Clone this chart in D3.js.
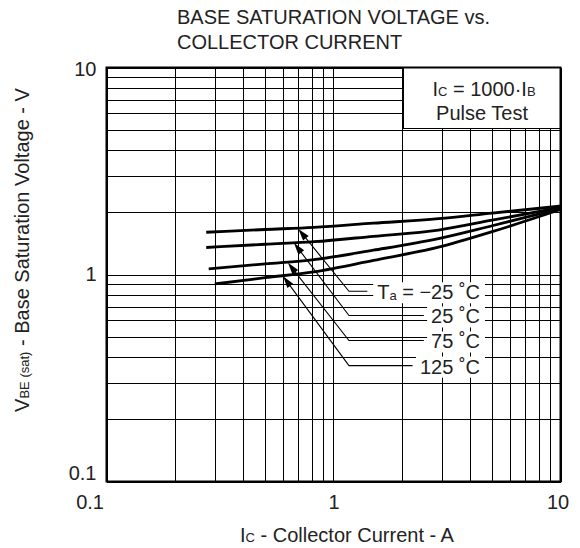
<!DOCTYPE html>
<html>
<head>
<meta charset="utf-8">
<script src="https://cdn.jsdelivr.net/npm/d3@7/dist/d3.min.js"></script>
<style>
  html, body { margin: 0; padding: 0; background: #fff; }
  svg { display: block; }
  text { font-family: "Liberation Sans", Arial, Helvetica, sans-serif; fill: #222; }
</style>
</head>
<body>
<svg id="chart" width="580" height="548"></svg>
<script>
// ---- data ----
const titleLines = ["BASE SATURATION VOLTAGE vs.", "COLLECTOR CURRENT"];
const xTickLabels = [0.1, 1, 10];
const yTickLabels = [0.1, 1, 10];
const temps = ["−25", "25", "75", "125"];

const icM25 = [0.275, 0.5, 0.82, 1.5, 2.9, 5, 10];
const vM25  = [1.60, 1.65, 1.69, 1.77, 1.86, 1.98, 2.14];
const ic25  = [0.275, 0.5, 0.82, 1.5, 2.9, 5, 10];
const v25   = [1.35, 1.40, 1.44, 1.53, 1.64, 1.83, 2.11];
const ic75  = [0.282, 0.5, 0.82, 1.5, 2.9, 5, 10];
const v75   = [1.065, 1.125, 1.18, 1.31, 1.49, 1.72, 2.08];
const ic125 = [0.30, 0.5, 0.82, 1.5, 2.9, 5, 10];
const v125  = [0.90, 0.965, 1.03, 1.17, 1.355, 1.61, 2.06];

// annotation anchors (data units)
const annTipX   = [0.70, 0.67, 0.63, 0.60];
const annTipV   = [1.66, 1.42, 1.14, 0.98];
const annElbowX = [1.17, 1.17, 1.17, 1.17];
const annElbowV = [0.83, 0.634, 0.48, 0.363];
const annEndX   = [1.41, 2.5, 2.5, 2.23];
const annLabelX = 4.42;

// ---- layout ----
const L = 106.5, R = 560.5, T = 67.5, B = 481.5;
const svg = d3.select("#chart");
const x = d3.scaleLog().domain([0.1, 10]).range([L, R]);
const y = d3.scaleLog().domain([0.1, 10]).range([B, T]);

// grid
const grid = svg.append("g").attr("stroke", "#000").attr("stroke-width", 1).attr("shape-rendering", "crispEdges");
grid.selectAll("line.v").data(x.ticks()).join("line")
  .attr("x1", d => Math.round(x(d)) + 0.5).attr("x2", d => Math.round(x(d)) + 0.5)
  .attr("y1", T).attr("y2", B);
grid.selectAll("line.h").data(y.ticks()).join("line")
  .attr("y1", d => Math.round(y(d)) + 0.5).attr("y2", d => Math.round(y(d)) + 0.5)
  .attr("x1", L).attr("x2", R);

// legend box (covers grid)
const legendG = svg.append("g");
legendG.append("rect").attr("x", 403.5).attr("y", T).attr("width", R - 403.5).attr("height", 128.5 - T)
  .attr("fill", "#fff").attr("stroke", "#000").attr("stroke-width", 1).attr("shape-rendering", "crispEdges");
const lt1 = legendG.append("text").attr("x", 484).attr("y", 96).attr("text-anchor", "middle").attr("font-size", 20);
lt1.append("tspan").text("I");
lt1.append("tspan").attr("font-size", 13).text("C");
lt1.append("tspan").text(" = 1000·I");
lt1.append("tspan").attr("font-size", 13).text("B");
legendG.append("text").attr("x", 482).attr("y", 120).attr("text-anchor", "middle").attr("font-size", 20).text("Pulse Test");

// annotation labels with white backgrounds
const labG = svg.append("g");
temps.forEach((t, i) => {
  const ty = y(annElbowV[i]) + 8;
  const g = labG.append("g");
  const txt = g.append("text").attr("x", x(annLabelX)).attr("y", ty).attr("text-anchor", "end").attr("font-size", 20);
  if (i === 0) {
    txt.append("tspan").text("T");
    txt.append("tspan").attr("font-size", 13).attr("dy", 1).text("a");
    txt.append("tspan").attr("dy", -1).text(" = " + t + " ˚C");
  } else {
    txt.text(t + " ˚C");
  }
  const bb = txt.node().getBBox();
  g.insert("rect", "text").attr("x", bb.x - 4).attr("y", bb.y + 1).attr("width", 485 - (bb.x - 4)).attr("height", bb.height - 1)
    .attr("fill", "#fff");
});

// curves
const series = [[icM25, vM25], [ic25, v25], [ic75, v75], [ic125, v125]];
const line = d3.line().x(d => x(d[0])).y(d => y(d[1])).curve(d3.curveMonotoneX);
svg.append("g").selectAll("path").data(series).join("path")
  .attr("d", s => line(s[0].map((c, k) => [c, s[1][k]])))
  .attr("fill", "none").attr("stroke", "#000").attr("stroke-width", 2.8);

// leaders and arrowheads
const ann = svg.append("g");
temps.forEach((t, i) => {
  const tx = x(annTipX[i]), ty = y(annTipV[i]);
  const ex = x(annElbowX[i]), ey = y(annElbowV[i]);
  const hx = x(annEndX[i]);
  const dx = tx - ex, dy = ty - ey, len = Math.hypot(dx, dy);
  const ux = dx / len, uy = dy / len;
  const AL = 12, AW = 3.6;
  const bx = tx - ux * AL, by = ty - uy * AL;
  ann.append("path")
    .attr("d", `M${hx},${ey}L${ex},${ey}L${bx + ux * 2},${by + uy * 2}`)
    .attr("fill", "none").attr("stroke", "#000").attr("stroke-width", 1.1);
  ann.append("path")
    .attr("d", `M${tx},${ty}L${bx - uy * AW},${by + ux * AW}L${bx + uy * AW},${by - ux * AW}Z`)
    .attr("fill", "#000");
});

// border
svg.append("rect").attr("x", L).attr("y", T).attr("width", R - L).attr("height", B - T)
  .attr("fill", "none").attr("stroke", "#000").attr("stroke-width", 2);

// axes (labels only)
const fmt = d => String(d);
const xAxis = svg.append("g").attr("transform", `translate(0,${B})`)
  .call(d3.axisBottom(x).tickValues(xTickLabels).tickFormat(fmt).tickSize(0).tickPadding(0));
xAxis.select(".domain").remove();
xAxis.selectAll("text").attr("font-size", 20).attr("font-family", null).attr("fill", "#222")
  .attr("y", 27).attr("dy", 0)
  .attr("text-anchor", d => d === 0.1 ? "end" : (d === 10 ? "middle" : "middle"))
  .attr("dx", d => d === 0.1 ? -3 : (d === 10 ? -3 : 0));

const yAxis = svg.append("g").attr("transform", `translate(${L},0)`)
  .call(d3.axisLeft(y).tickValues(yTickLabels).tickFormat(fmt).tickSize(0).tickPadding(0));
yAxis.select(".domain").remove();
yAxis.selectAll("text").attr("font-size", 20).attr("font-family", null).attr("fill", "#222")
  .attr("x", -10).attr("dy", d => d === 0.1 ? "-0.12em" : (d === 10 ? "0.4em" : "0.32em"));

// titles
const title = svg.append("text").attr("x", 177).attr("y", 23.5).attr("font-size", 20);
title.selectAll("tspan").data(titleLines).join("tspan")
  .attr("x", 177).attr("dy", (d, i) => i === 0 ? 0 : 25).text(d => d);

const xt = svg.append("text").attr("x", 347).attr("y", 542).attr("text-anchor", "middle").attr("font-size", 20);
xt.append("tspan").text("I");
xt.append("tspan").attr("font-size", 13).text("C");
xt.append("tspan").text(" - Collector Current - A");

const yt = svg.append("text").attr("transform", "translate(29,250) rotate(-90)").attr("text-anchor", "middle").attr("font-size", 20);
yt.append("tspan").text("V");
yt.append("tspan").attr("font-size", 13).text("BE (sat)");
yt.append("tspan").text(" - Base Saturation Voltage - V");
</script>
</body>
</html>
